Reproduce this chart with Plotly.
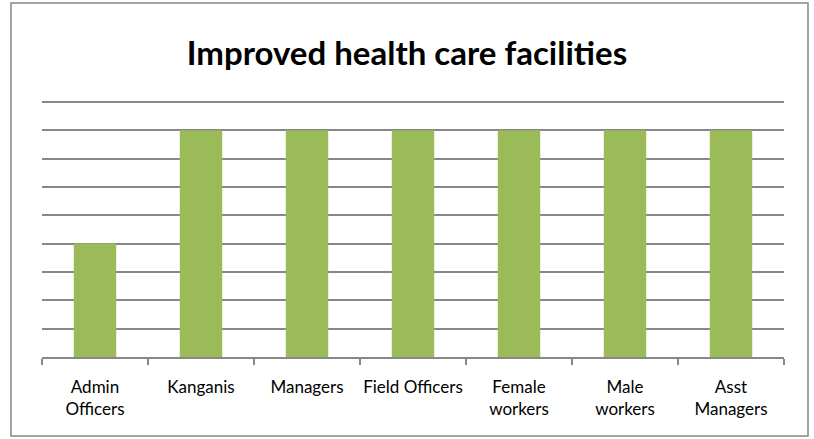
import plotly.graph_objects as go

categories = ["Admin<br>Officers", "Kanganis", "Managers", "Field Officers",
              "Female<br>workers", "Male<br>workers", "Asst<br>Managers"]
values = [4, 8, 8, 8, 8, 8, 8]

fig = go.Figure(go.Bar(x=categories, y=values, marker=dict(color="#9BBB59", line=dict(width=0)),
                       width=0.4))

fig.update_layout(
    width=814, height=439,
    margin=dict(l=42, r=30, t=99, b=82),
    paper_bgcolor="white", plot_bgcolor="white",
    showlegend=False,
    title=dict(text="<b>Improved health care facilities</b>", x=0.5, xanchor="center",
               y=1 - 53/439, yanchor="middle",
               font=dict(family="Lato", size=33, color="black")),
    font=dict(family="Lato", size=17, color="black"),
    xaxis=dict(type="category", showline=True, linecolor="#878787", linewidth=1.5,
               ticks="outside", tickson="boundaries", ticklen=6, tickcolor="#878787",
               tickwidth=1.5, showgrid=False, tickfont=dict(size=17), tickangle=0,
               ticklabelstandoff=14, automargin=False),
    yaxis=dict(range=[0, 9.1], tickvals=list(range(1, 10)), showticklabels=False, showgrid=True,
               gridcolor="#878787", gridwidth=1.5, zeroline=False, showline=False,
               automargin=False),
    shapes=[dict(type="rect", xref="paper", yref="paper",
                 x0=-31/742, x1=1 + 24/742, y0=-79/258, y1=1 + 96/258,
                 line=dict(color="#878787", width=1.5))],
)

fig.write_html("out.html", post_script="document.body.style.margin='0';",
               config={"displayModeBar": False})
